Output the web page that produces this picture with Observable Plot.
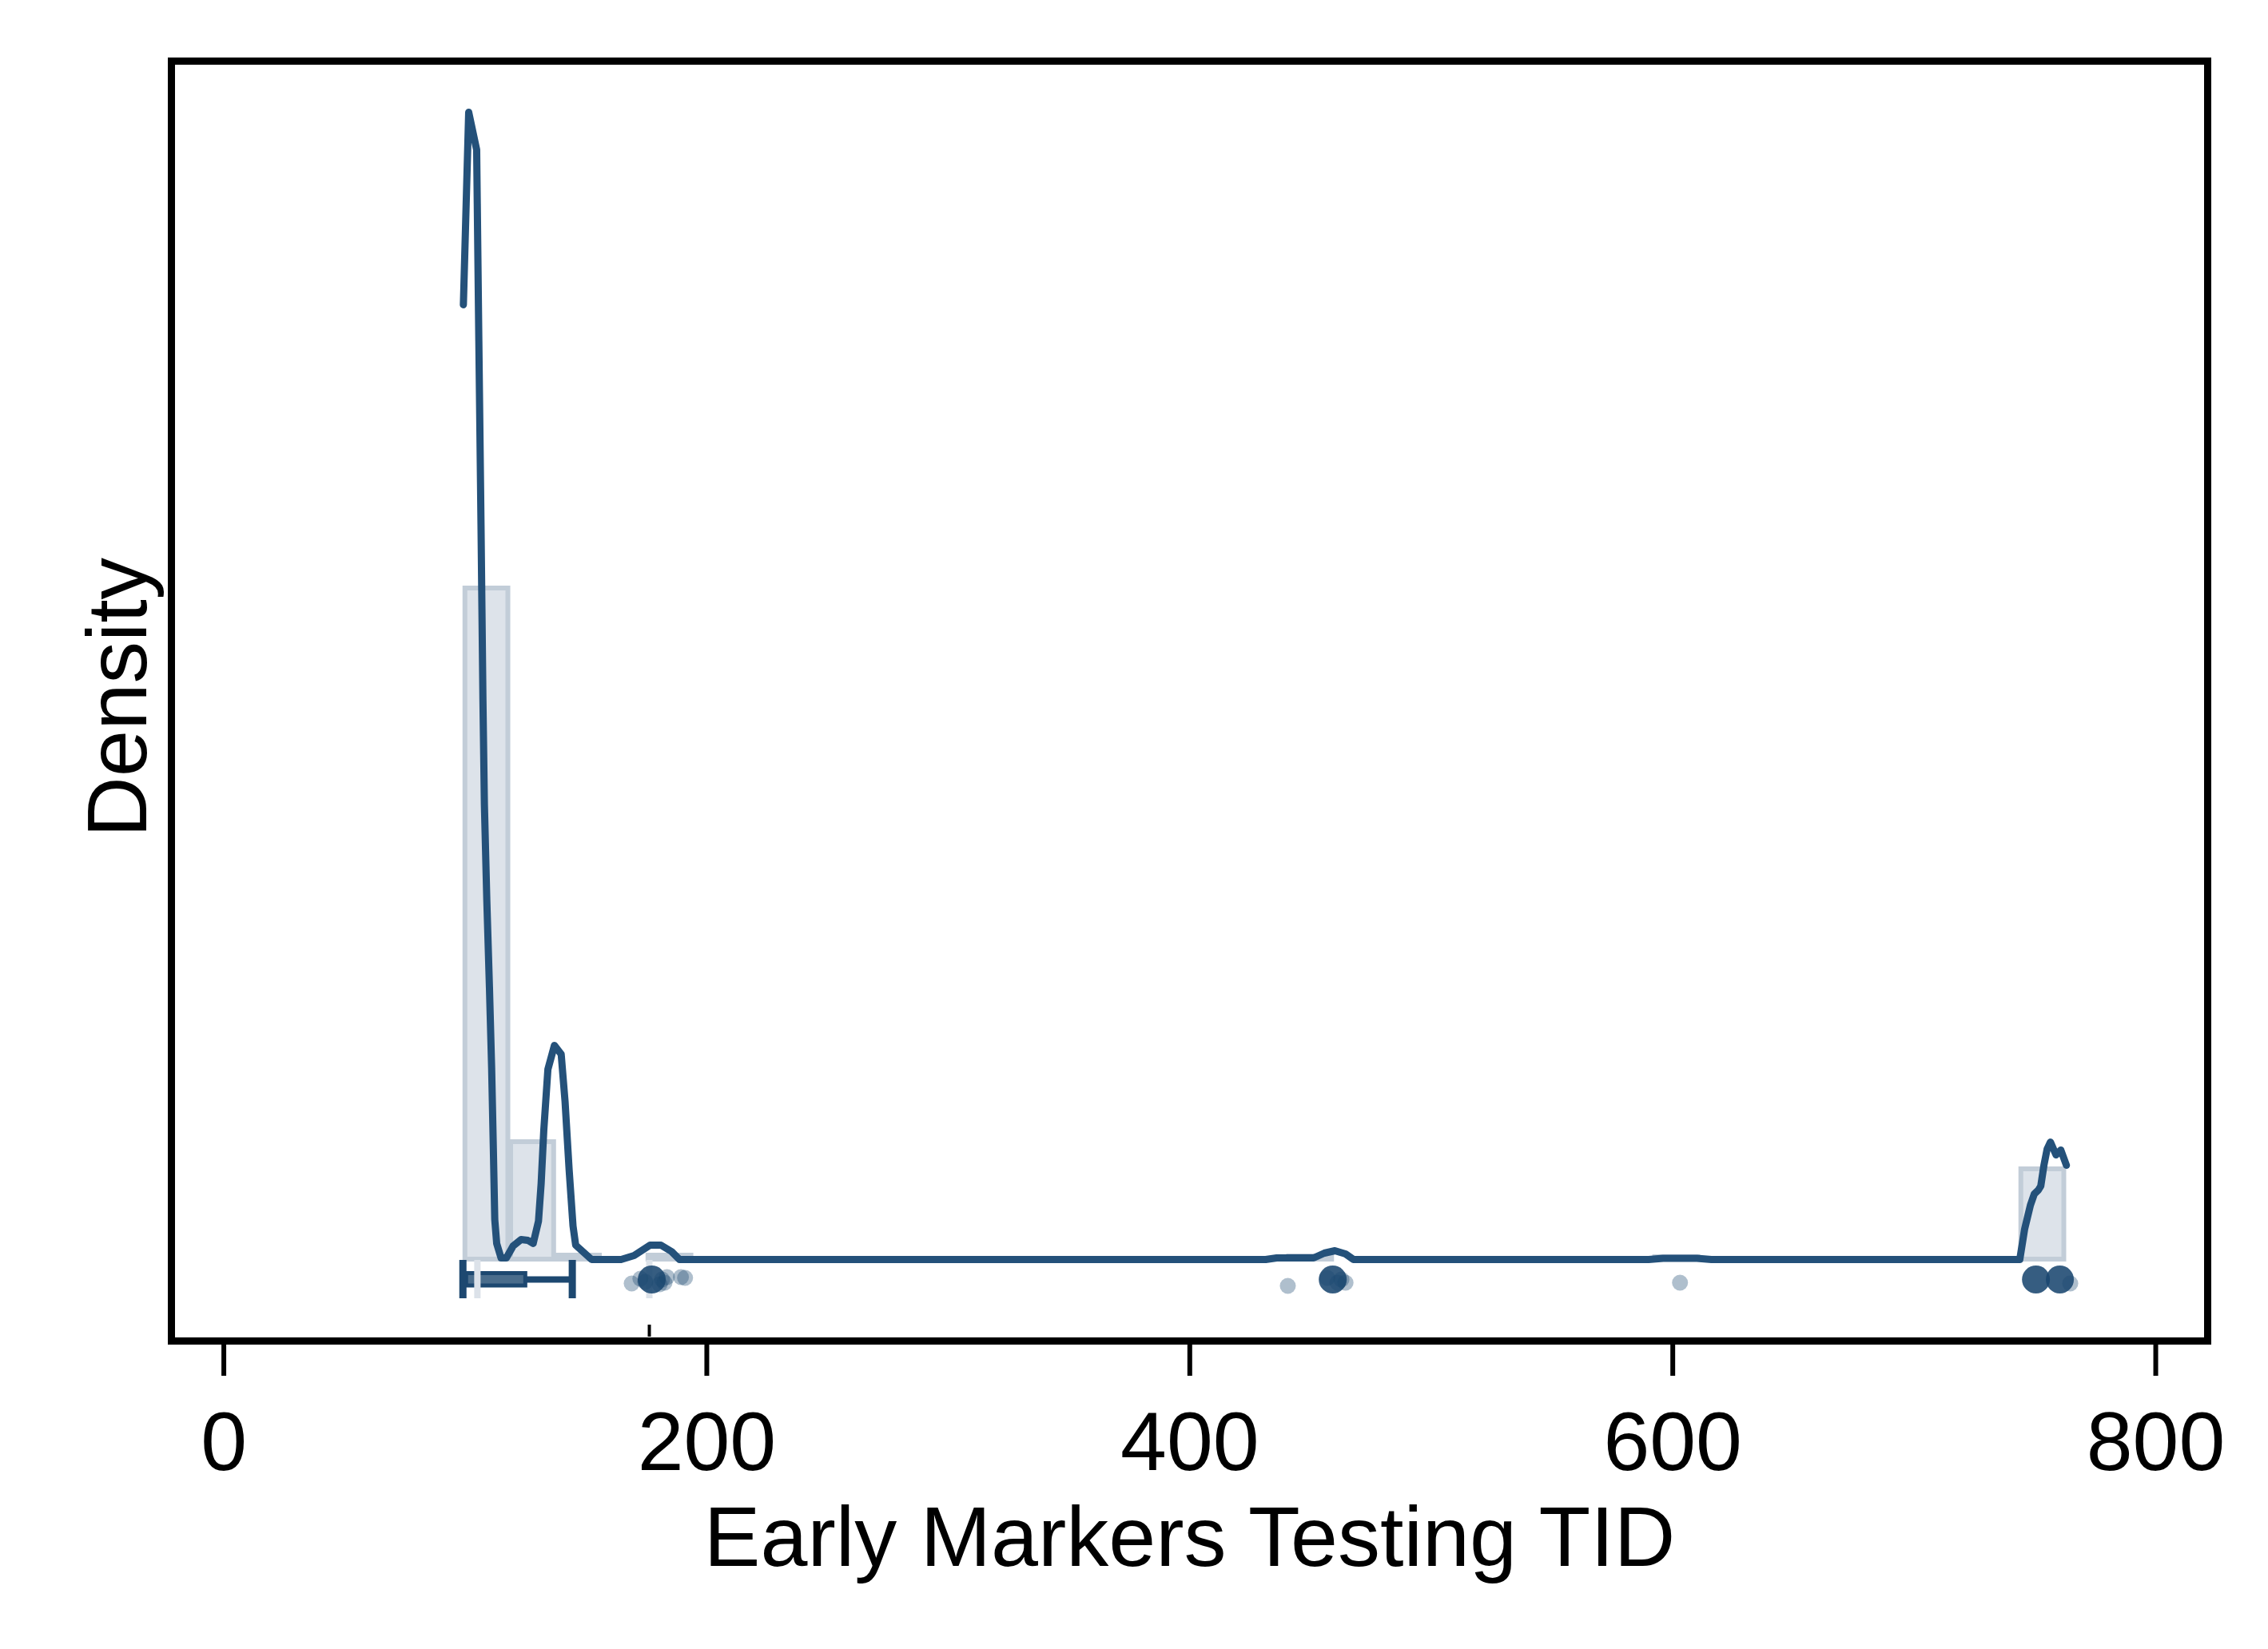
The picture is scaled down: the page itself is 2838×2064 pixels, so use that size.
<!DOCTYPE html>
<html>
<head>
<meta charset="utf-8">
<script src="https://cdn.jsdelivr.net/npm/d3@7"></script>
<script src="https://cdn.jsdelivr.net/npm/@observablehq/plot@0.6"></script>
<style>
  html, body { margin: 0; padding: 0; background: white; }
  #chart svg { display: block; }
</style>
</head>
<body>
<div id="chart"></div>
<script>
// ---- Data (density in relative units) ----
const xTicks = [0, 200, 400, 600, 800];

// kernel density curve
const kdeX = [99.2, 101.4, 104.7, 105.6, 106.5, 107.3, 107.9, 108.9, 110.0, 110.9, 111.6, 112.2, 113.0, 114.8, 117.0,
  119.8, 123.1, 125.9, 128.1, 130.3, 131.4, 132.5, 134.2, 136.9, 139.7, 141.3, 143.0, 144.6, 145.7, 147.9, 152.3,
  164.5, 169.9, 176.5, 181.0, 185.4, 188.7, 431.4, 436.0, 451.3, 455.7, 460.1, 464.5, 467.8, 590.0, 596.0, 610.0, 616.0,
  743.7, 745.7, 748.1, 749.7, 751.4, 752.4, 753.7, 755.0, 756.4, 758.7, 760.7, 763.0];
const kdeDensity = [119.5, 143.6, 138.9, 115.0, 92.0, 70.0, 57.0, 45.0, 34.0, 24.0, 14.0, 5.0, 2.0, 0.2, 0.2,
  1.7, 2.5, 2.4, 2.0, 4.8, 9.5, 16.2, 23.8, 26.8, 25.7, 19.8, 11.2, 4.2, 1.8, 1.2, 0.0,
  0.0, 0.5, 1.8, 1.8, 1.0, 0.0, 0.0, 0.2, 0.2, 0.8, 1.1, 0.7, 0.0, 0.0, 0.15, 0.15, 0.0,
  0.0, 3.8, 6.8, 8.2, 8.7, 9.2, 11.8, 13.8, 14.7, 13.1, 13.7, 11.8];

// histogram bins (non-empty)
const histLo = [100.0, 118.95, 137.9, 175.8, 441.1, 592.7, 744.3];
const histHi = [118.95, 137.9, 156.85, 194.75, 460.05, 611.65, 763.25];
const histDensity = [84.0, 14.7, 0.5, 0.5, 0.4, 0.3, 11.3];

// box plot statistics
const lowerAdjacent = 99.0;
const q1 = 100.5;
const median = 105.0;
const q3 = 125.0;
const upperAdjacent = 144.3;
const meanTID = 176.2;

// outside values (single observations, with the vertical jitter seen in the picture)
const outlierX = [168.9, 172.5, 174.5, 180.5, 181.5, 182.5, 183.5, 189.3, 191.0,
  440.6, 456.9, 461.2, 462.8, 464.5,
  603.0,
  764.6];
const outlierJitter = [-3.0, -2.4, -2.8, -3.1, -2.5, -2.9, -2.2, -2.2, -2.3,
  -3.3, -2.3, -2.9, -2.5, -2.9,
  -2.9,
  -3.0];

// heavily tied outside values (many stacked observations)
const tiedX = [177.2, 459.2, 750.4, 760.3];
const tiedJitter = [-2.5, -2.5, -2.5, -2.5];

// ---- Build tables ----
const kde = kdeX.map((x, i) => ({x, y: kdeDensity[i]}));
const hist = histLo.map((lo, i) => ({lo, hi: histHi[i], h: histDensity[i]}));
const outliers = outlierX.map((x, i) => ({x, y: outlierJitter[i]}));
const tied = tiedX.map((x, i) => ({x, y: tiedJitter[i]}));

const navy = "#1d4870";
const font = "'Liberation Sans', Arial, Helvetica, sans-serif";

const chart = Plot.plot({
  width: 2838,
  height: 2064,
  marginLeft: 214,
  marginRight: 76,
  marginTop: 76,
  marginBottom: 386,
  style: {fontFamily: font, background: "white", color: "black"},
  x: {domain: [-21.7, 821.5]},
  y: {domain: [-10.2, 150], axis: null},
  marks: [
    Plot.rectY(hist, {x1: "lo", x2: "hi", y: "h", fill: "#dde3ea", stroke: "#c2cdd8", strokeWidth: 6, insetRight: 3.5}),
    Plot.line(kde, {x: "x", y: "y", stroke: "#24517a", strokeWidth: 9, strokeLinejoin: "round"}),
    Plot.ruleX([meanTID], {y1: -0.1, y2: -4.9, stroke: "#dce2e9", strokeWidth: 8}),
    Plot.dot(tied, {x: "x", y: "y", r: 17.5, fill: "#1a476f", fillOpacity: 0.88}),
    Plot.dot(outliers, {x: "x", y: "y", r: 10, fill: "#1a476f", fillOpacity: 0.35}),
    Plot.ruleY([-2.5], {x1: lowerAdjacent, x2: upperAdjacent, stroke: navy, strokeWidth: 8}),
    Plot.rect([0], {x1: q1, x2: q3, y1: -1.75, y2: -3.3, fill: "#4a6d8c", stroke: navy, strokeWidth: 5}),
    Plot.ruleX([lowerAdjacent, upperAdjacent], {y1: -0.1, y2: -4.9, stroke: navy, strokeWidth: 9}),
    Plot.ruleX([median], {y1: -0.1, y2: -4.9, stroke: "#dce2e9", strokeWidth: 8}),
    Plot.ruleX([meanTID], {y1: -8.2, y2: -9.7, stroke: "black", strokeWidth: 4}),
    Plot.frame({stroke: "black", strokeWidth: 9}),
    Plot.axisX({ticks: xTicks, tickSize: 44, tickPadding: 44, fontSize: 104, strokeWidth: 6, label: null, stroke: "black", fill: "black"}),
    Plot.text(["Early Markers Testing TID"], {frameAnchor: "bottom", lineAnchor: "bottom", textAnchor: "middle", dy: 281, fontSize: 106, fill: "black"}),
    Plot.text(["Density"], {frameAnchor: "left", rotate: -90, textAnchor: "middle", lineAnchor: "bottom", dx: -32, dy: -4.5, fontSize: 105, fill: "black"})
  ]
});
document.getElementById("chart").appendChild(chart);
</script>
</body>
</html>
